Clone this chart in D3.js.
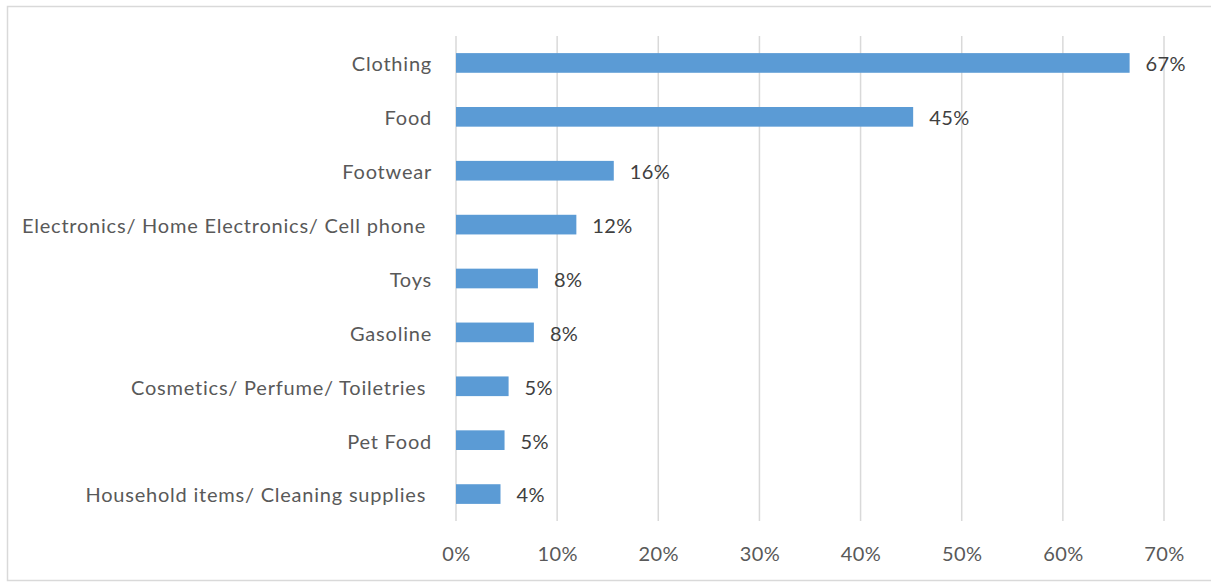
<!DOCTYPE html>
<html>
<head>
<meta charset="utf-8">
<script src="https://cdn.jsdelivr.net/npm/d3@7"></script>
<style>
  html, body { margin: 0; padding: 0; background: #ffffff; }
  svg text { font-family: Lato, "Open Sans", sans-serif; white-space: pre; }
</style>
</head>
<body>
<svg id="chart" width="1211" height="582"></svg>
<script>
// Share of respondents by purchase category
const categories = [
  "Clothing",
  "Food",
  "Footwear",
  "Electronics/ Home Electronics/ Cell phone ",
  "Toys",
  "Gasoline",
  "Cosmetics/ Perfume/ Toiletries ",
  "Pet Food",
  "Household items/ Cleaning supplies "
];
const shares = [0.666, 0.452, 0.156, 0.119, 0.081, 0.077, 0.052, 0.048, 0.044];
const xTicks = [0, 0.1, 0.2, 0.3, 0.4, 0.5, 0.6, 0.7];

const svg = d3.select("#chart");
const margin = { top: 36, right: 47, bottom: 61, left: 456 };
const W = 1211, H = 582;
const innerW = W - margin.left - margin.right;
const innerH = H - margin.top - margin.bottom;
const pct = d3.format(".0%");

// outer frame
svg.append("rect")
  .attr("x", 7.5).attr("y", 6.5)
  .attr("width", 1212).attr("height", 574)
  .attr("fill", "#ffffff")
  .attr("stroke", "#d9d9d9")
  .attr("stroke-width", 1.5);

const g = svg.append("g").attr("transform", `translate(${margin.left},${margin.top})`);

const x = d3.scaleLinear().domain([0, 0.7]).range([0, innerW]);
const y = d3.scaleBand().domain(categories).range([0, innerH])
  .paddingInner(0.635).paddingOuter(0.3175);

// vertical gridlines
g.selectAll("line.grid")
  .data(xTicks)
  .join("line")
  .attr("class", "grid")
  .attr("x1", d => x(d)).attr("x2", d => x(d))
  .attr("y1", 0).attr("y2", innerH)
  .attr("stroke", "#d9d9d9")
  .attr("stroke-width", 1.5);

// x-axis tick labels
const xAxis = d3.axisBottom(x).tickValues(xTicks).tickFormat(pct).tickSize(0).tickPadding(24);
const xg = g.append("g").attr("transform", `translate(0,${innerH})`).call(xAxis);
xg.select(".domain").remove();
xg.selectAll("text")
  .attr("fill", "#595959")
  .attr("dy", "0.78em")
  .style("font-size", "20px")
  .style("letter-spacing", "0.4px")
  .style("font-family", "Lato, 'Open Sans', sans-serif");

// category labels
const yAxis = d3.axisLeft(y).tickSize(0).tickPadding(24);
const yg = g.append("g").call(yAxis);
yg.select(".domain").remove();
yg.selectAll("text")
  .attr("fill", "#595959")
  .attr("dy", "0.42em")
  .style("font-size", "20px")
  .style("letter-spacing", "0.78px")
  .style("font-family", "Lato, 'Open Sans', sans-serif")
  .style("white-space", "pre");

// bars
g.selectAll("rect.bar")
  .data(categories)
  .join("rect")
  .attr("class", "bar")
  .attr("x", x(0))
  .attr("y", d => y(d))
  .attr("width", (d, i) => x(shares[i]) - x(0))
  .attr("height", y.bandwidth())
  .attr("fill", "#5b9bd5");

// value labels
g.selectAll("text.value")
  .data(categories)
  .join("text")
  .attr("class", "value")
  .attr("x", (d, i) => x(shares[i]) + 16)
  .attr("y", d => y(d) + y.bandwidth() / 2)
  .attr("dy", "0.42em")
  .attr("fill", "#404040")
  .style("font-size", "20px")
  .style("letter-spacing", "0.4px")
  .text((d, i) => pct(shares[i]));
</script>
</body>
</html>
